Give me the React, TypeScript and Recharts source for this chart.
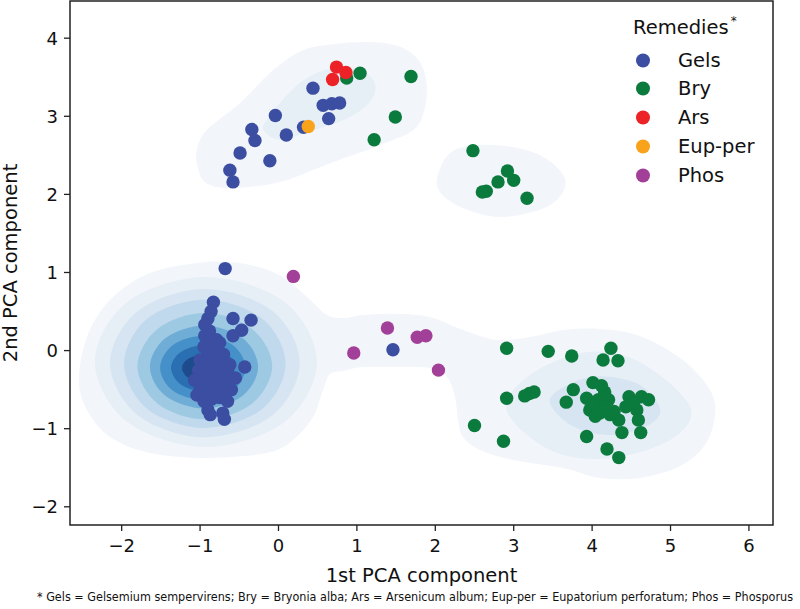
import React from 'react';
import { ScatterChart, Scatter, XAxis, YAxis, Legend, ReferenceArea } from 'recharts';

type P = { x: number; y: number };

const xTicks = [-2, -1, 0, 1, 2, 3, 4, 5, 6];
const yTicks = [-2, -1, 0, 1, 2, 3, 4];
const xDomain: [number, number] = [-2.659, 6.307];
const yDomain: [number, number] = [-2.233, 4.476];

const legendTitle = 'Remedies';
const footnote =
  '* Gels = Gelsemium sempervirens; Bry = Bryonia alba; Ars = Arsenicum album; Eup-per = Eupatorium perforatum; Phos = Phosporus';

const gels: P[] = [
  { x: 0.44, y: 3.36 }, { x: 0.57, y: 3.14 }, { x: 0.68, y: 3.16 }, { x: 0.78, y: 3.17 },
  { x: 0.64, y: 2.97 }, { x: -0.04, y: 3.01 }, { x: -0.34, y: 2.83 }, { x: -0.30, y: 2.69 },
  { x: 0.10, y: 2.76 }, { x: 0.32, y: 2.86 }, { x: -0.49, y: 2.53 }, { x: -0.11, y: 2.43 },
  { x: -0.62, y: 2.31 }, { x: -0.58, y: 2.16 },
  { x: 1.46, y: 0.01 },
  { x: -0.68, y: 1.05 }, { x: -0.83, y: 0.62 }, { x: -0.86, y: 0.50 }, { x: -0.90, y: 0.41 },
  { x: -0.94, y: 0.33 }, { x: -0.58, y: 0.41 }, { x: -0.35, y: 0.39 }, { x: -0.47, y: 0.26 },
  { x: -0.58, y: 0.19 }, { x: -0.94, y: 0.19 }, { x: -0.79, y: 0.14 }, { x: -0.43, y: -0.21 },
  { x: -0.60, y: -0.50 }, { x: -1.04, y: -0.57 }, { x: -0.90, y: -0.76 }, { x: -0.87, y: -0.82 },
  { x: -0.71, y: -0.80 }, { x: -0.69, y: -0.88 }, { x: -0.55, y: -0.35 }, { x: -0.88, y: 0.25 },
  { x: -0.95, y: 0.05 }, { x: -0.85, y: 0.08 }, { x: -0.75, y: 0.10 }, { x: -0.90, y: -0.05 },
  { x: -0.80, y: -0.02 }, { x: -0.70, y: -0.05 }, { x: -1.00, y: -0.12 }, { x: -0.92, y: -0.15 },
  { x: -0.82, y: -0.12 }, { x: -0.72, y: -0.15 }, { x: -0.62, y: -0.18 }, { x: -1.02, y: -0.25 },
  { x: -0.95, y: -0.28 }, { x: -0.85, y: -0.25 }, { x: -0.75, y: -0.28 }, { x: -0.65, y: -0.25 },
  { x: -1.07, y: -0.38 }, { x: -0.97, y: -0.40 }, { x: -0.88, y: -0.38 }, { x: -0.78, y: -0.35 },
  { x: -0.68, y: -0.38 }, { x: -1.00, y: -0.50 }, { x: -0.90, y: -0.50 }, { x: -0.80, y: -0.48 },
  { x: -0.72, y: -0.52 }, { x: -0.85, y: -0.62 }, { x: -0.75, y: -0.60 }, { x: -0.95, y: -0.65 },
  { x: -0.65, y: -0.65 },
];

const bry: P[] = [
  { x: 0.87, y: 3.49 }, { x: 1.04, y: 3.55 }, { x: 1.69, y: 3.51 }, { x: 1.49, y: 2.99 }, { x: 1.22, y: 2.70 },
  { x: 2.48, y: 2.56 }, { x: 2.92, y: 2.30 }, { x: 3.00, y: 2.18 }, { x: 2.80, y: 2.16 },
  { x: 2.65, y: 2.04 }, { x: 2.60, y: 2.03 }, { x: 3.17, y: 1.95 },
  { x: 2.91, y: 0.03 }, { x: 3.44, y: -0.01 }, { x: 3.74, y: -0.07 }, { x: 4.24, y: 0.03 },
  { x: 4.14, y: -0.12 }, { x: 4.33, y: -0.13 }, { x: 2.91, y: -0.61 }, { x: 3.14, y: -0.58 },
  { x: 3.20, y: -0.55 }, { x: 3.26, y: -0.53 }, { x: 2.50, y: -0.96 }, { x: 2.87, y: -1.16 },
  { x: 3.76, y: -0.50 }, { x: 3.67, y: -0.66 }, { x: 4.01, y: -0.41 }, { x: 3.93, y: -0.61 },
  { x: 3.97, y: -0.76 }, { x: 4.08, y: -0.63 }, { x: 4.16, y: -0.53 }, { x: 4.21, y: -0.63 },
  { x: 4.10, y: -0.80 }, { x: 4.23, y: -0.82 }, { x: 4.34, y: -0.89 }, { x: 4.38, y: -1.05 },
  { x: 4.04, y: -0.84 }, { x: 4.47, y: -0.59 }, { x: 4.63, y: -0.59 }, { x: 4.72, y: -0.63 },
  { x: 4.43, y: -0.72 }, { x: 4.57, y: -0.76 }, { x: 4.53, y: -0.67 }, { x: 4.59, y: -0.89 },
  { x: 4.62, y: -1.05 }, { x: 3.93, y: -1.10 }, { x: 4.19, y: -1.26 }, { x: 4.34, y: -1.37 },
  { x: 4.00, y: -0.70 }, { x: 4.15, y: -0.72 }, { x: 4.28, y: -0.78 }, { x: 4.12, y: -0.45 },
];

const ars: P[] = [{ x: 0.74, y: 3.63 }, { x: 0.86, y: 3.56 }, { x: 0.69, y: 3.47 }];
const eupPer: P[] = [{ x: 0.38, y: 2.87 }];
const phos: P[] = [
  { x: 0.19, y: 0.95 }, { x: 0.96, y: -0.03 }, { x: 1.39, y: 0.29 },
  { x: 1.77, y: 0.17 }, { x: 1.88, y: 0.19 }, { x: 2.04, y: -0.25 },
];

// density contour outlines
const lowerOuter: P[] = [
  { x: -2.545, y: -0.376 }, { x: -2.443, y: 0.174 }, { x: -2.149, y: 0.648 }, { x: -1.639, y: 0.994 },
  { x: -0.912, y: 1.135 }, { x: -0.364, y: 1.096 }, { x: 0.057, y: 0.942 }, { x: 0.364, y: 0.686 },
  { x: 0.619, y: 0.456 }, { x: 0.848, y: 0.417 }, { x: 1.078, y: 0.456 }, { x: 1.55, y: 0.469 },
  { x: 1.932, y: 0.43 }, { x: 2.353, y: 0.264 }, { x: 2.787, y: 0.136 }, { x: 3.208, y: 0.174 },
  { x: 3.629, y: 0.264 }, { x: 4.101, y: 0.277 }, { x: 4.611, y: 0.187 }, { x: 5.159, y: -0.12 },
  { x: 5.504, y: -0.504 }, { x: 5.568, y: -0.824 }, { x: 5.44, y: -1.209 }, { x: 5.121, y: -1.478 },
  { x: 4.611, y: -1.631 }, { x: 4.101, y: -1.631 }, { x: 3.629, y: -1.503 }, { x: 2.991, y: -1.401 },
  { x: 2.57, y: -1.273 }, { x: 2.353, y: -1.106 }, { x: 2.29, y: -0.888 }, { x: 2.251, y: -0.594 },
  { x: 2.149, y: -0.338 }, { x: 1.932, y: -0.223 }, { x: 1.55, y: -0.21 }, { x: 1.078, y: -0.21 },
  { x: 0.823, y: -0.261 }, { x: 0.657, y: -0.299 }, { x: 0.568, y: -0.504 }, { x: 0.44, y: -0.85 },
  { x: 0.185, y: -1.145 }, { x: -0.147, y: -1.311 }, { x: -0.912, y: -1.375 }, { x: -1.639, y: -1.311 },
  { x: -2.149, y: -1.106 }, { x: -2.443, y: -0.76 },
];
const upperOuter: P[] = [
  { x: -1.04, y: 2.4 }, { x: -0.94, y: 2.16 }, { x: -0.62, y: 2.08 }, { x: 0.02, y: 2.16 },
  { x: 0.66, y: 2.4 }, { x: 1.29, y: 2.63 }, { x: 1.72, y: 2.82 }, { x: 1.86, y: 3.08 },
  { x: 1.89, y: 3.4 }, { x: 1.8, y: 3.7 }, { x: 1.55, y: 3.89 }, { x: 1.17, y: 3.95 },
  { x: 0.75, y: 3.93 }, { x: 0.32, y: 3.85 }, { x: -0.07, y: 3.59 }, { x: -0.49, y: 3.17 },
  { x: -0.92, y: 2.82 }, { x: -1.04, y: 2.57 },
];
const upperInner: P[] = [
  { x: -0.19, y: 2.82 }, { x: 0.02, y: 2.7 }, { x: 0.44, y: 2.82 }, { x: 0.87, y: 2.97 },
  { x: 1.17, y: 3.19 }, { x: 1.23, y: 3.42 }, { x: 1.04, y: 3.59 }, { x: 0.66, y: 3.61 },
  { x: 0.32, y: 3.46 }, { x: 0.02, y: 3.17 }, { x: -0.15, y: 2.95 },
];
const middleOuter: P[] = [
  { x: 2.04, y: 2.27 }, { x: 2.25, y: 2.57 }, { x: 2.79, y: 2.63 }, { x: 3.34, y: 2.5 },
  { x: 3.66, y: 2.18 }, { x: 3.46, y: 1.86 }, { x: 2.87, y: 1.71 }, { x: 2.36, y: 1.82 }, { x: 2.06, y: 2.03 },
];
const rightL2: P[] = [
  { x: 2.91, y: -0.76 }, { x: 3.21, y: -0.31 }, { x: 3.93, y: -0.02 }, { x: 4.61, y: -0.15 },
  { x: 5.25, y: -0.72 }, { x: 5.0, y: -1.14 }, { x: 4.19, y: -1.38 }, { x: 3.46, y: -1.27 },
];
const rightL3: P[] = [
  { x: 3.46, y: -0.65 }, { x: 3.69, y: -0.44 }, { x: 4.1, y: -0.33 }, { x: 4.61, y: -0.44 },
  { x: 4.87, y: -0.76 }, { x: 4.67, y: -0.98 }, { x: 4.19, y: -1.08 }, { x: 3.72, y: -0.95 },
];
const mainL2: P[] = [
  { x: 0.49, y: -0.146 }, { x: 0.076, y: 0.623 }, { x: -0.925, y: 0.942 }, { x: -1.926, y: 0.623 },
  { x: -2.341, y: -0.146 }, { x: -1.926, y: -0.915 }, { x: -0.925, y: -1.234 }, { x: 0.076, y: -0.915 },
];
const mainL3: P[] = [
  { x: 0.27, y: -0.16 }, { x: -0.08, y: 0.51 }, { x: -0.94, y: 0.79 }, { x: -1.79, y: 0.51 },
  { x: -2.15, y: -0.16 }, { x: -1.79, y: -0.83 }, { x: -0.94, y: -1.11 }, { x: -0.08, y: -0.83 },
];
const mainL4: P[] = [
  { x: 0.09, y: -0.17 }, { x: -0.21, y: 0.41 }, { x: -0.94, y: 0.65 }, { x: -1.67, y: 0.41 },
  { x: -1.97, y: -0.17 }, { x: -1.67, y: -0.75 }, { x: -0.94, y: -0.99 }, { x: -0.21, y: -0.75 },
];
const mainL5: P[] = [
  { x: -0.08, y: -0.2 }, { x: -0.34, y: 0.28 }, { x: -0.94, y: 0.48 }, { x: -1.54, y: 0.28 },
  { x: -1.8, y: -0.2 }, { x: -1.54, y: -0.68 }, { x: -0.94, y: -0.88 }, { x: -0.34, y: -0.68 },
];
const mainL6: P[] = [
  { x: -0.26, y: -0.21 }, { x: -0.46, y: 0.16 }, { x: -0.95, y: 0.32 }, { x: -1.44, y: 0.16 },
  { x: -1.64, y: -0.21 }, { x: -1.44, y: -0.58 }, { x: -0.95, y: -0.74 }, { x: -0.46, y: -0.58 },
];
const mainL7: P[] = [
  { x: -0.42, y: -0.22 }, { x: -0.58, y: 0.07 }, { x: -0.96, y: 0.19 }, { x: -1.35, y: 0.07 },
  { x: -1.51, y: -0.22 }, { x: -1.35, y: -0.51 }, { x: -0.96, y: -0.63 }, { x: -0.58, y: -0.51 },
];
const mainL8: P[] = [
  { x: -0.56, y: -0.22 }, { x: -0.67, y: -0.02 }, { x: -0.96, y: 0.07 }, { x: -1.25, y: -0.02 },
  { x: -1.37, y: -0.22 }, { x: -1.25, y: -0.43 }, { x: -0.96, y: -0.52 }, { x: -0.67, y: -0.43 },
];
const mainL9: P[] = [
  { x: -0.72, y: -0.22 }, { x: -0.8, y: -0.11 }, { x: -0.98, y: -0.06 }, { x: -1.16, y: -0.11 },
  { x: -1.23, y: -0.22 }, { x: -1.16, y: -0.34 }, { x: -0.98, y: -0.39 }, { x: -0.8, y: -0.34 },
];

const levelColors = ['#f2f5fa', '#e6eef6', '#d7e5f2', '#c0d9ed', '#9ec9e3', '#6fadd7', '#4590c8', '#2a6fb1', '#1e4b8c'];

const contourLayers: { id: string; data: P[]; level: number }[] = [
  { id: 'lowerOuter', data: lowerOuter, level: 0 },
  { id: 'upperOuter', data: upperOuter, level: 0 },
  { id: 'middleOuter', data: middleOuter, level: 0 },
  { id: 'upperInner', data: upperInner, level: 1 },
  { id: 'rightL2', data: rightL2, level: 1 },
  { id: 'rightL3', data: rightL3, level: 2 },
  { id: 'mainL2', data: mainL2, level: 1 },
  { id: 'mainL3', data: mainL3, level: 2 },
  { id: 'mainL4', data: mainL4, level: 3 },
  { id: 'mainL5', data: mainL5, level: 4 },
  { id: 'mainL6', data: mainL6, level: 5 },
  { id: 'mainL7', data: mainL7, level: 6 },
  { id: 'mainL8', data: mainL8, level: 7 },
  { id: 'mainL9', data: mainL9, level: 8 },
];

const seriesDefs = [
  { name: 'Gels', data: gels, color: '#3b4ea2' },
  { name: 'Bry', data: bry, color: '#0b7a3d' },
  { name: 'Ars', data: ars, color: '#ec2227' },
  { name: 'Eup-per', data: eupPer, color: '#f9a21b' },
  { name: 'Phos', data: phos, color: '#a23f98' },
];
const seriesOrder = seriesDefs.map((s) => s.name);

const FONT = "'DejaVu Sans', Verdana, sans-serif";

function closedSmoothPath(pts: { x: number; y: number }[]): string {
  const n = pts.length;
  if (!n) return '';
  let d = `M${pts[0].x},${pts[0].y}`;
  for (let i = 0; i < n; i++) {
    const p0 = pts[(i - 1 + n) % n];
    const p1 = pts[i];
    const p2 = pts[(i + 1) % n];
    const p3 = pts[(i + 2) % n];
    const c1x = p1.x + (p2.x - p0.x) / 6;
    const c1y = p1.y + (p2.y - p0.y) / 6;
    const c2x = p2.x - (p3.x - p1.x) / 6;
    const c2y = p2.y - (p3.y - p1.y) / 6;
    d += ` C${c1x},${c1y} ${c2x},${c2y} ${p2.x},${p2.y}`;
  }
  return d + ' Z';
}

const fmt = (v: number) => (v < 0 ? `\u2212${Math.abs(v)}` : String(v));

const renderLegend = (props: any) => {
  const items = (props.payload || [])
    .filter((e: any) => e.type !== 'none' && seriesOrder.indexOf(e.value) >= 0)
    .slice()
    .sort((a: any, b: any) => seriesOrder.indexOf(a.value) - seriesOrder.indexOf(b.value));
  return (
    <div style={{ position: 'relative', width: 165, height: 180, fontFamily: FONT, color: '#111' }}>
      <div style={{ position: 'absolute', left: 0, top: 0, fontSize: 19.5, lineHeight: '30px', whiteSpace: 'nowrap' }}>
        {legendTitle}
        <span style={{ fontSize: 12, position: 'relative', top: -9, marginLeft: 2 }}>*</span>
      </div>
      {items.map((e: any, i: number) => (
        <div key={e.value} style={{ position: 'absolute', left: 0, top: 32.5 + i * 28.8, height: 29, width: 165 }}>
          <svg width={20} height={29} style={{ position: 'absolute', left: 0, top: 0 }}>
            <circle cx={10} cy={14.5} r={7} fill={e.color} />
          </svg>
          <span style={{ position: 'absolute', left: 45, top: 0, fontSize: 19.5, lineHeight: '29px', whiteSpace: 'nowrap' }}>
            {e.value}
          </span>
        </div>
      ))}
    </div>
  );
};

export default function App() {
  return (
    <div style={{ position: 'absolute', left: 0, top: 0, width: 800, height: 609, background: '#fff' }}>
      <ScatterChart width={800} height={609} margin={{ top: 1, right: 27, bottom: 34, left: 0 }}>
        <XAxis
          type="number"
          dataKey="x"
          domain={xDomain}
          ticks={xTicks}
          allowDataOverflow
          axisLine={false}
          tickLine={{ stroke: '#222', strokeWidth: 1.3 }}
          tickSize={6}
          tickMargin={8}
          tickFormatter={fmt}
          tick={{ fill: '#111', fontSize: 18, fontFamily: FONT }}
          height={50}
          label={{ value: '1st PCA component', position: 'insideBottom', offset: -7, fill: '#111', fontSize: 19.5, fontFamily: FONT }}
        />
        <YAxis
          type="number"
          dataKey="y"
          domain={yDomain}
          ticks={yTicks}
          allowDataOverflow
          axisLine={false}
          tickLine={{ stroke: '#222', strokeWidth: 1.3 }}
          tickSize={6}
          tickMargin={6}
          tickFormatter={fmt}
          tick={{ fill: '#111', fontSize: 18, fontFamily: FONT }}
          width={70}
          label={{
            value: '2nd PCA component',
            angle: -90,
            position: 'insideLeft',
            offset: 10,
            fill: '#111',
            fontSize: 19.5,
            fontFamily: FONT,
            style: { textAnchor: 'middle' },
          }}
        />
        {contourLayers.map((c) => (
          <Scatter
            key={c.id}
            name={c.id}
            data={c.data}
            legendType="none"
            isAnimationActive={false}
            shape={() => <g />}
            line={(lp: any) => (
              <path d={closedSmoothPath(lp.points || [])} fill={levelColors[c.level]} stroke="none" />
            )}
          />
        ))}
        {seriesDefs.map((s) => (
          <Scatter
            key={s.name}
            name={s.name}
            data={s.data}
            fill={s.color}
            isAnimationActive={false}
            shape={(p: any) => <circle cx={p.cx} cy={p.cy} r={6.7} fill={s.color} />}
          />
        ))}
        <ReferenceArea
          x1={xDomain[0]}
          x2={xDomain[1]}
          y1={yDomain[0]}
          y2={yDomain[1]}
          fill="none"
          fillOpacity={0}
          stroke="#222"
          strokeWidth={1.5}
          ifOverflow="visible"
        />
        <Legend
          layout="vertical"
          align="center"
          verticalAlign="middle"
          content={renderLegend}
          wrapperStyle={{ position: 'absolute', left: 633, top: 13, width: 165, height: 180 }}
        />
      </ScatterChart>
      <svg width={800} height={22} style={{ position: 'absolute', left: 0, top: 584 }}>
        <text
          x={37}
          y={17}
          fontFamily="'DejaVu Sans Condensed', 'Liberation Sans Narrow', sans-serif"
          fontSize={12.5}
          fill="#111"
          textLength={756}
          lengthAdjust="spacingAndGlyphs"
        >
          {footnote}
        </text>
      </svg>
    </div>
  );
}
